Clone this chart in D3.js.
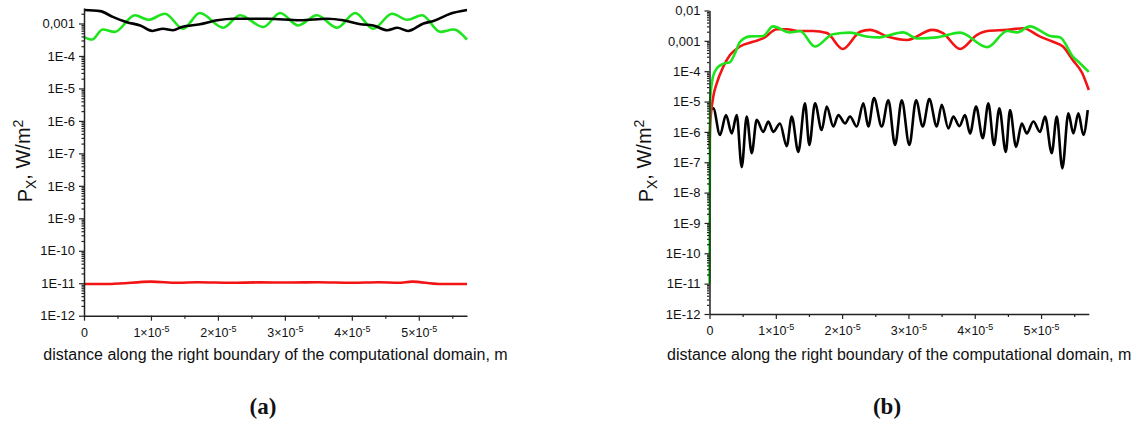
<!DOCTYPE html>
<html>
<head>
<meta charset="utf-8">
<script src="https://cdn.jsdelivr.net/npm/d3@7"></script>
<style>
  body { margin: 0; background: #fff; }
  svg { display: block; font-family: "Liberation Sans", Arial, sans-serif; }
</style>
</head>
<body>
<script>
// x values in micrometres, y values in W/m^2

// panel (a)
var aBlackX = [0, 2.4, 4.3, 6.4, 8.4, 10.2, 11.8, 13.3, 14.6, 17.3, 19.9, 22.3, 27.4, 32.3, 36.3, 38.7, 41.3, 43.2, 45.3, 46.8, 48.4, 50.7, 52.2, 54.7, 57.2];
var aBlackY = [2.6e-3, 2.4e-3, 1.6e-3, 1.1e-3, 8.7e-4, 5.9e-4, 6.9e-4, 6.2e-4, 7.8e-4, 9.5e-4, 1.26e-3, 1.4e-3, 1.4e-3, 1.26e-3, 1.4e-3, 1.26e-3, 9.5e-4, 8.7e-4, 6.2e-4, 7.4e-4, 5.9e-4, 1.0e-3, 1.2e-3, 2.0e-3, 2.6e-3];

var aGreenX = [0, 1.2, 2.8, 4.6, 7.6, 9.6, 12.1, 14.8, 17.3, 20.8, 23.3, 26.8, 29.3, 32.0, 34.8, 37.8, 40.5, 43.2, 46.0, 48.3, 50.5, 53.2, 55.2, 57.2];
var aGreenY = [3.8e-4, 3.2e-4, 6.5e-4, 5.5e-4, 1.8e-3, 1.3e-3, 2.0e-3, 6.9e-4, 2.1e-3, 7.4e-4, 1.8e-3, 7.8e-4, 2.1e-3, 8.7e-4, 1.8e-3, 7.4e-4, 2.1e-3, 6.9e-4, 2.0e-3, 1.3e-3, 1.8e-3, 5.5e-4, 6.5e-4, 3.2e-4];

var aRedX = [0, 4, 10, 14, 17, 22, 26, 31, 35, 40, 44, 47, 49, 53, 57.2];
var aRedY = [0.95e-11, 0.95e-11, 1.12e-11, 1.03e-11, 1.07e-11, 1.03e-11, 1.06e-11, 1.05e-11, 1.07e-11, 1.03e-11, 1.07e-11, 1.03e-11, 1.12e-11, 0.95e-11, 0.95e-11];

// panel (b)
var bRedX = [0, 0.12, 0.57, 1.09, 2.08, 3.09, 4.6, 6.56, 8.07, 10.18, 11.69, 13.65, 15.6, 17.7, 20.1, 22.7, 24.2, 26.8, 29.8, 33.6, 35.2, 37.8, 40.3, 41.9, 44.9, 47.3, 49.8, 51.8, 53.3, 54.8, 56.2, 57.2];
var bRedY = [3e-7, 2e-6, 1.45e-5, 4e-5, 1.4e-4, 3.4e-4, 6.5e-4, 9.3e-4, 1.2e-3, 2.4e-3, 2.4e-3, 2.1e-3, 2.1e-3, 1.8e-3, 5.4e-4, 2.0e-3, 2.3e-3, 1.4e-3, 1.07e-3, 2.3e-3, 1.8e-3, 5.4e-4, 1.55e-3, 2.1e-3, 2.3e-3, 2.6e-3, 1.4e-3, 9.3e-4, 6.5e-4, 2.3e-4, 8.7e-5, 2.4e-5];

var bGreenX = [0, 0.08, 0.53, 1.13, 2.04, 3.09, 3.85, 4.6, 6.1, 8.07, 9.58, 12.1, 13.65, 15.9, 18.6, 21.2, 23.7, 25.3, 29.2, 31.3, 34.3, 37.8, 41.9, 44.9, 46.4, 48.3, 51.4, 52.9, 54.8, 55.9, 57.2];
var bGreenY = [1e-11, 1e-5, 6.6e-5, 1.26e-4, 1.74e-4, 2.0e-4, 3.9e-4, 9.3e-4, 1.4e-3, 1.45e-3, 3.0e-3, 1.9e-3, 2.1e-3, 6.5e-4, 1.66e-3, 1.86e-3, 1.4e-3, 1.3e-3, 1.9e-3, 1.2e-3, 1.3e-3, 1.86e-3, 6.2e-4, 2.1e-3, 1.9e-3, 3.0e-3, 1.45e-3, 1.3e-3, 3.0e-4, 1.8e-4, 9.5e-5];

var bBlackX = [0, 0.57, 1.58, 2.49, 3.35, 4.10, 4.86, 5.61, 6.37, 7.12, 8.11, 8.87, 9.62, 10.63, 11.64, 12.40, 13.39, 14.40, 15.05, 15.91, 16.92, 17.68, 18.67, 19.43, 20.44, 21.19, 22.20, 23.20, 23.95, 24.81, 25.97, 26.97, 27.98, 28.99, 30.14, 31.15, 32.16, 33.15, 34.27, 35.02, 36.02, 36.77, 37.68, 38.54, 39.29, 40.20, 41.21, 42.05, 42.91, 43.71, 44.68, 45.32, 46.23, 47.09, 47.84, 48.84, 49.85, 50.60, 51.61, 52.37, 53.21, 54.12, 54.87, 55.63, 56.38, 57.04];
var bBlackY = [4.5e-6, 6.0e-6, 7.9e-7, 3.6e-6, 8.9e-7, 3.6e-6, 6.9e-8, 3.2e-6, 2.0e-7, 2.5e-6, 1.0e-6, 2.2e-6, 1.0e-6, 1.9e-6, 3.4e-7, 3.2e-6, 2.2e-7, 8.7e-6, 3.7e-7, 8.7e-6, 1.15e-6, 6.8e-6, 1.5e-6, 3.6e-6, 1.9e-6, 3.2e-6, 1.5e-6, 8.7e-6, 1.5e-6, 1.3e-5, 1.5e-6, 1.1e-5, 3.7e-7, 1.1e-5, 3.7e-7, 1.1e-5, 1.5e-6, 1.2e-5, 1.5e-6, 7.8e-6, 1.3e-6, 3.2e-6, 1.55e-6, 3.6e-6, 8.9e-7, 6.8e-6, 6.2e-7, 8.7e-6, 3.7e-7, 6.0e-6, 2.2e-7, 5.2e-6, 3.2e-7, 1.9e-6, 8.9e-7, 2.2e-6, 1.0e-6, 3.2e-6, 2.0e-7, 3.2e-6, 6.3e-8, 4.1e-6, 8.9e-7, 4.1e-6, 7.9e-7, 5.2e-6];

var xTicks = [0, 1e-5, 2e-5, 3e-5, 4e-5, 5e-5];
var xMinor = [0.5e-5, 1.5e-5, 2.5e-5, 3.5e-5, 4.5e-5, 5.5e-5];
var xMax = 5.72e-5;

var RED = "#f21414", GREEN = "#1ee41e", BLACK = "#000";

var svg = d3.select("body").append("svg")
    .attr("width", 1133)
    .attr("height", 423);

function toPts(xs, ys) {
    return xs.map(function(v, i) { return [v * 1e-6, ys[i]]; });
}

function yLabel(v) {
    var e = Math.round(Math.log10(v));
    if (e == -2) return "0,01";
    if (e == -3) return "0,001";
    return "1E" + e;
}

function drawPanel(cfg) {
    var x = d3.scaleLinear().domain([0, xMax]).range([cfg.left, cfg.right]);
    var y = d3.scaleLog().domain([1e-12, cfg.yMax]).range([cfg.bottom, cfg.top]);

    var g = svg.append("g");

    var decades = [], minors = [];
    for (var e = -12; e <= 0; e++) {
        var v = Math.pow(10, e);
        if (v <= cfg.yMax * 1.0001) decades.push(v);
        for (var m = 2; m <= 9; m++) {
            if (m * v < cfg.yMax) minors.push(m * v);
        }
    }

    // series
    var line = d3.line()
        .x(function(d) { return x(d[0]); })
        .y(function(d) { return y(d[1]); })
        .curve(d3.curveMonotoneX);

    cfg.series.forEach(function(s) {
        g.append("path")
            .attr("d", line(s.pts))
            .attr("fill", "none")
            .attr("stroke", s.color)
            .attr("stroke-width", 2.6)
            .attr("stroke-linejoin", "round");
    });

    // y axis
    g.append("g")
        .attr("transform", "translate(" + cfg.left + ",0)")
        .call(d3.axisLeft(y).tickValues(minors).tickSize(2.5).tickFormat(""))
        .call(function(a) { a.select(".domain").remove(); });

    var ya = g.append("g")
        .attr("transform", "translate(" + cfg.left + ",0)")
        .call(d3.axisLeft(y).tickValues(decades).tickSize(5).tickSizeOuter(0).tickPadding(4).tickFormat(yLabel));
    ya.selectAll("text").attr("font-size", 13).attr("fill", "#111");

    // x axis
    g.append("g")
        .attr("transform", "translate(0," + cfg.bottom + ")")
        .call(d3.axisBottom(x).tickValues(xMinor).tickSize(3).tickFormat(""))
        .call(function(a) { a.select(".domain").remove(); });

    var xa = g.append("g")
        .attr("transform", "translate(0," + cfg.bottom + ")")
        .call(d3.axisBottom(x).tickValues(xTicks).tickSize(5).tickSizeOuter(0).tickPadding(7).tickFormat(""));
    xa.selectAll(".tick text").each(function(d) {
        var t = d3.select(this).attr("font-size", 12.5).attr("fill", "#111");
        var k = Math.round(d / 1e-5);
        if (k == 0) { t.text("0"); return; }
        t.append("tspan").text(k + "\u00d710");
        t.append("tspan").attr("dy", "-0.5em").attr("font-size", 9).text("-5");
    });

    g.selectAll(".domain").attr("stroke", "#222").attr("stroke-width", 1.5);
    g.selectAll(".tick line").attr("stroke", "#222").attr("stroke-width", 1.2);

    // x title
    g.append("text")
        .attr("x", (cfg.left + cfg.right) / 2)
        .attr("y", 360)
        .attr("text-anchor", "middle")
        .attr("font-size", 16)
        .attr("fill", "#111")
        .text("distance along the right boundary of the computational domain, m");

    // y title
    var yt = g.append("text")
        .attr("transform", "translate(" + cfg.ytx + ",161) rotate(-90)")
        .attr("text-anchor", "middle")
        .attr("font-size", 20)
        .attr("fill", "#111");
    yt.append("tspan").text("P");
    yt.append("tspan").attr("font-size", 14).attr("dy", "0.3em").text("X");
    yt.append("tspan").attr("dy", "-0.3em").text(", W/m");
    yt.append("tspan").attr("font-size", 14).attr("dy", "-0.55em").text("2");

    // caption
    var c = g.append("text")
        .attr("x", cfg.capX)
        .attr("y", 414)
        .attr("text-anchor", "middle")
        .attr("font-family", "'Liberation Serif', 'Times New Roman', serif")
        .attr("font-size", 23)
        .attr("font-weight", "bold")
        .attr("fill", "#111");
    c.text("(" + cfg.caption + ")");
}

drawPanel({
    left: 84, right: 467, top: 8, bottom: 315.7, yMax: 3e-3,
    ytx: 32, capX: 263, caption: "a",
    series: [
        { pts: toPts(aRedX, aRedY), color: RED },
        { pts: toPts(aGreenX, aGreenY), color: GREEN },
        { pts: toPts(aBlackX, aBlackY), color: BLACK }
    ]
});

drawPanel({
    left: 709.5, right: 1088.8, top: 10.5, bottom: 314, yMax: 1e-2,
    ytx: 653, capX: 887, caption: "b",
    series: [
        { pts: toPts(bBlackX, bBlackY), color: BLACK },
        { pts: toPts(bRedX, bRedY), color: RED },
        { pts: toPts(bGreenX, bGreenY), color: GREEN }
    ]
});
</script>
</body>
</html>
